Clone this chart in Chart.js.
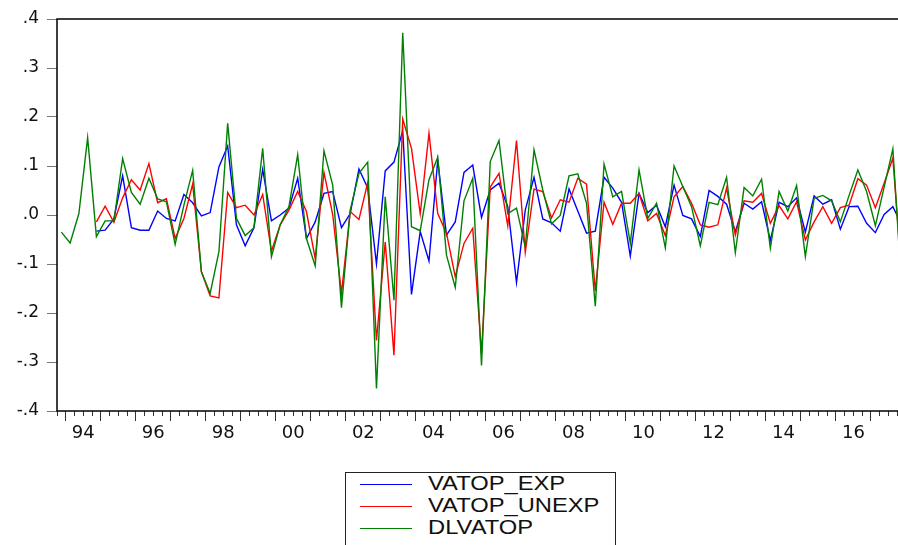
<!DOCTYPE html>
<html>
<head>
<meta charset="utf-8">
<script src="https://cdn.jsdelivr.net/npm/chart.js@4"></script>
<style>
    html, body { margin: 0; padding: 0; background: #fff; width: 898px; height: 545px; overflow: hidden; }
    #wrap { position: relative; width: 906px; height: 452px; }
    #legend {
        position: absolute; left: 345px; top: 472px; width: 271px; height: 90px;
        border: 1px solid #222; box-sizing: border-box;
        font-family: "Liberation Sans", Arial, sans-serif; font-size: 21px; color: #111;
    }
    #legend .item { position: absolute; left: 0; height: 22px; width: 100%; }
    #legend .sample { position: absolute; left: 14px; top: 11px; width: 52px; height: 0; border-top: 1px solid; }
    #legend .text { position: absolute; left: 82px; top: -1px; line-height: 22px; transform: scaleX(1.13); transform-origin: left center; white-space: nowrap; }
</style>
</head>
<body>
<div id="wrap"><canvas id="lineChart"></canvas></div>
<div id="legend"></div>
<script>
// quarterly observations, 1993Q4 .. 2017Q4
const firstYear = 1993;
const firstQuarter = 4;
const quarters = [];
for (let i = 0; i < 97; i++) {
    const q = firstQuarter - 1 + i;
    quarters.push((firstYear + Math.floor(q / 4)) + 'Q' + (q % 4 + 1));
}

const seriesNames = ['VATOP_EXP', 'VATOP_UNEXP', 'DLVATOP'];

const vatopExp = [
    null, null, null, null, -0.033, -0.031, -0.008, 0.080, -0.026, -0.031,
    -0.031, 0.008, -0.007, -0.012, 0.042, 0.025, -0.002, 0.005, 0.098, 0.141,
    -0.020, -0.063, -0.026, 0.093, -0.012, 0.000, 0.014, 0.075, -0.048, -0.014,
    0.044, 0.048, -0.026, 0.003, 0.094, 0.055, -0.100, 0.090, 0.108, 0.172,
    -0.162, -0.034, -0.094, 0.112, -0.041, -0.014, 0.087, 0.102, -0.005, 0.051,
    0.065, 0.017, -0.138, 0.010, 0.077, -0.008, -0.016, -0.033, 0.053, 0.008,
    -0.037, -0.033, 0.077, 0.055, 0.026, -0.084, 0.044, 0.005, 0.020, -0.024,
    0.061, -0.001, -0.008, -0.044, 0.050, 0.038, 0.022, -0.034, 0.024, 0.012,
    0.027, -0.052, 0.026, 0.017, 0.035, -0.035, 0.039, 0.022, 0.031, -0.029,
    0.017, 0.018, -0.017, -0.036, 0.001, 0.017, -0.020
];

const vatopUnexp = [
    null, null, null, null, -0.014, 0.018, -0.015, 0.035, 0.072, 0.051,
    0.105, 0.025, 0.033, -0.048, -0.007, 0.063, -0.116, -0.165, -0.169, 0.046,
    0.015, 0.020, 0.000, 0.042, -0.074, -0.020, 0.010, 0.048, 0.007, -0.089,
    0.087, 0.001, -0.160, 0.007, -0.009, 0.066, -0.256, -0.055, -0.286, 0.196,
    0.136, 0.002, 0.167, 0.003, -0.037, -0.126, -0.058, -0.027, -0.283, 0.057,
    0.085, -0.022, 0.152, -0.076, 0.053, 0.048, -0.006, 0.031, 0.026, 0.075,
    0.063, -0.155, 0.026, -0.019, 0.024, 0.024, 0.044, -0.012, 0.003, -0.042,
    0.037, 0.058, 0.024, -0.020, -0.025, -0.020, 0.055, -0.041, 0.029, 0.026,
    0.044, -0.017, 0.019, -0.008, 0.027, -0.051, -0.014, 0.017, -0.017, 0.015,
    0.020, 0.074, 0.061, 0.015, 0.065, 0.116, -0.120
];

const dlvatop = [
    -0.035, -0.057, 0.003, 0.158, -0.044, -0.012, -0.012, 0.115, 0.046, 0.022,
    0.075, 0.033, 0.027, -0.060, 0.020, 0.091, -0.116, -0.160, -0.075, 0.187,
    -0.007, -0.042, -0.026, 0.136, -0.085, -0.020, 0.017, 0.123, -0.048, -0.104,
    0.131, 0.061, -0.189, 0.010, 0.085, 0.108, -0.354, 0.037, -0.174, 0.372,
    -0.024, -0.032, 0.072, 0.118, -0.082, -0.148, 0.029, 0.075, -0.307, 0.109,
    0.152, 0.003, 0.014, -0.065, 0.133, 0.051, -0.018, -0.001, 0.080, 0.084,
    0.024, -0.186, 0.104, 0.037, 0.048, -0.058, 0.092, -0.007, 0.024, -0.067,
    0.100, 0.058, 0.017, -0.063, 0.026, 0.021, 0.077, -0.077, 0.056, 0.039,
    0.073, -0.068, 0.048, 0.008, 0.060, -0.085, 0.034, 0.040, 0.029, -0.014,
    0.040, 0.092, 0.048, -0.022, 0.057, 0.135, -0.150
];

const yTicks = [-0.4, -0.3, -0.2, -0.1, 0.0, 0.1, 0.2, 0.3, 0.4];

// place each quarter in the middle of its slot on the time axis
function toPoints(values) {
    return values.map((v, i) => ({x: i + 0.5, y: v}));
}

// EViews style frame round the plot area
const framePlugin = {
    id: 'frame',
    afterDraw(chart) {
        const a = chart.chartArea;
        const ctx = chart.ctx;
        ctx.save();
        ctx.strokeStyle = '#000';
        ctx.lineWidth = 1.5;
        ctx.strokeRect(a.left, a.top, a.right - a.left, a.bottom - a.top);
        ctx.restore();
    }
};

// legend box below the chart, built from the datasets
const htmlLegend = {
    id: 'htmlLegend',
    afterUpdate(chart) {
        const box = document.getElementById('legend');
        box.innerHTML = '';
        chart.data.datasets.forEach((ds, i) => {
            const item = document.createElement('div');
            item.className = 'item';
            item.style.top = (i * 22) + 'px';
            const sample = document.createElement('div');
            sample.className = 'sample';
            sample.style.borderColor = ds.borderColor;
            const text = document.createElement('span');
            text.className = 'text';
            text.textContent = ds.label;
            item.appendChild(sample);
            item.appendChild(text);
            box.appendChild(item);
        });
    }
};

const ctx = document.getElementById('lineChart').getContext('2d');
const myChart = new Chart(ctx, {
    type: 'line',
    data: {
        datasets: [{
            label: seriesNames[0],
            data: toPoints(vatopExp),
            borderColor: '#0000ff',
            order: 3,
        }, {
            label: seriesNames[1],
            data: toPoints(vatopUnexp),
            borderColor: '#ff0000',
            order: 2,
        }, {
            label: seriesNames[2],
            data: toPoints(dlvatop),
            borderColor: '#008000',
            order: 1,
        }]
    },
    options: {
        responsive: true,
        maintainAspectRatio: false,
        animation: false,
        events: [],
        layout: {
            padding: {top: 19, left: 0, right: 0, bottom: 0}
        },
        elements: {
            line: {borderWidth: 1.4, tension: 0, fill: false},
            point: {radius: 0}
        },
        scales: {
            x: {
                type: 'linear',
                min: 0,
                max: quarters.length,
                afterFit: s => { s.height = 41; },
                afterBuildTicks: axis => {
                    axis.ticks = quarters.map((q, i) => ({value: i}));
                },
                grid: {
                    drawOnChartArea: false,
                    tickLength: 10,
                    tickColor: '#333',
                    tickWidth: 1,
                    // only the year starts get the full length mark
                    tickBorderDash: c => ((c.index - 1) % 4 === 0 ? [] : [5, 40]),
                },
                border: {display: false},
                ticks: {
                    autoSkip: false,
                    maxRotation: 0,
                    minRotation: 0,
                    padding: 2,
                    color: '#111',
                    font: {family: "'DejaVu Sans', sans-serif", size: 18},
                    callback: function (value, index) {
                        // label sits in the middle of every second year
                        if ((index - 3) % 8 !== 0 || index < 3) return '';
                        return quarters[index].substring(2, 4);
                    }
                }
            },
            y: {
                min: -0.4,
                max: 0.4,
                afterFit: s => { s.width = 57; },
                afterBuildTicks: axis => {
                    axis.ticks = yTicks.map(v => ({value: v}));
                },
                grid: {
                    drawOnChartArea: false,
                    tickLength: 10,
                    tickColor: '#777',
                },
                border: {display: false},
                ticks: {
                    padding: 8,
                    color: '#111',
                    font: {family: "'DejaVu Sans', sans-serif", size: 17},
                    callback: v => v.toFixed(1).replace('0.', '.')
                }
            }
        },
        plugins: {
            legend: {display: false},
            tooltip: {enabled: false}
        }
    },
    plugins: [framePlugin, htmlLegend]
});
</script>
</body>
</html>
